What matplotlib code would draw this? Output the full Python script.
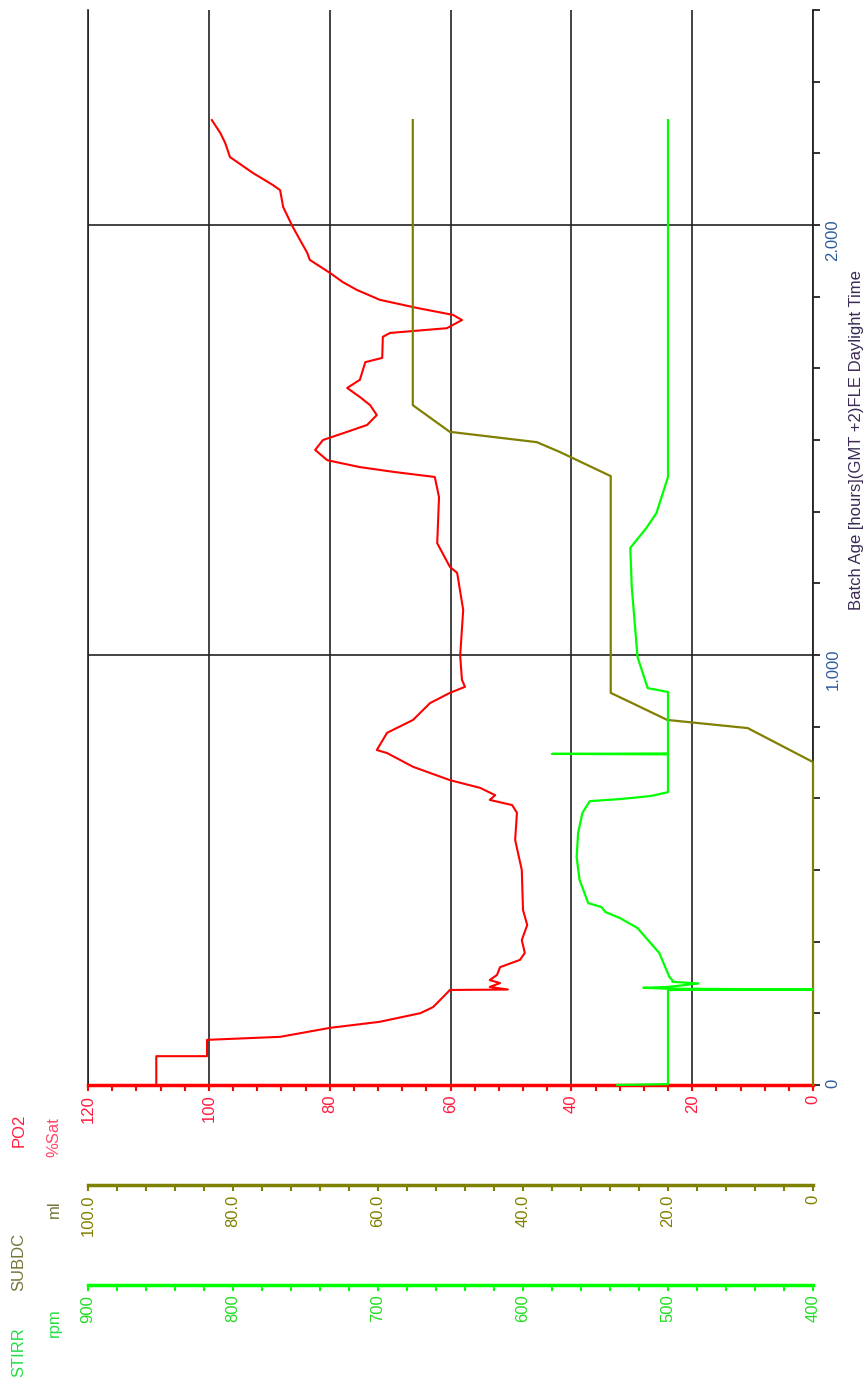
import matplotlib.pyplot as plt
from matplotlib.ticker import MultipleLocator, FuncFormatter

plt.rcParams['font.family'] = ['Liberation Sans', 'DejaVu Sans']

# batch age in hours, values
po2_t = [0.000, 0.067, 0.067, 0.105, 0.112, 0.133, 0.147, 0.167, 0.181, 0.205,
         0.221, 0.222, 0.228, 0.237, 0.244, 0.256, 0.274, 0.291, 0.307, 0.337,
         0.372, 0.407, 0.500, 0.570, 0.633, 0.651, 0.663, 0.674, 0.691, 0.709,
         0.740, 0.772, 0.779, 0.819, 0.849, 0.888, 0.912, 0.926, 0.942, 0.998,
         1.105, 1.191, 1.205, 1.260, 1.367, 1.414, 1.426, 1.437, 1.453, 1.477,
         1.500, 1.519, 1.535, 1.558, 1.581, 1.600, 1.621, 1.640, 1.663, 1.681,
         1.691, 1.740, 1.749, 1.760, 1.779, 1.791, 1.807, 1.826, 1.849, 1.867,
         1.888, 1.919, 1.935, 1.965, 1.998, 2.042, 2.081, 2.093, 2.121, 2.158,
         2.191, 2.214, 2.244]
po2_v = [108.7, 108.7, 100.3, 100.3, 88.2, 79.9, 71.7, 65.0, 62.9, 61.2,
         60.1, 50.5, 53.5, 51.8, 53.5, 52.3, 51.8, 48.5, 47.7, 48.2,
         47.3, 48.0, 48.2, 49.3, 49.0, 49.8, 53.5, 52.6, 55.1, 60.1,
         66.2, 70.5, 72.2, 70.5, 66.2, 63.4, 60.1, 57.6, 58.1, 58.4,
         57.9, 58.9, 60.1, 62.2, 61.9, 62.6, 69.5, 75.0, 80.4, 82.4,
         81.1, 77.1, 73.8, 72.2, 73.3, 75.0, 77.1, 75.0, 74.5, 74.1,
         71.3, 71.2, 70.0, 60.6, 58.1, 59.6, 65.5, 71.7, 75.5, 77.8,
         79.9, 83.3, 83.7, 84.9, 86.2, 87.7, 88.2, 89.4, 92.7, 96.5,
         97.3, 98.1, 99.5]

subdc_t = [0.000, 0.751, 0.830, 0.849, 0.912, 1.416, 1.472, 1.495, 1.519, 1.581, 2.244]
subdc_v = [0.0, 0.0, 9.0, 20.1, 27.9, 27.9, 34.9, 38.1, 50.1, 55.2, 55.2]

stirr_t = [0.000, 0.002, 0.221, 0.222, 0.224, 0.226, 0.228, 0.236, 0.240, 0.244,
           0.251, 0.307, 0.330, 0.365, 0.388, 0.402, 0.414, 0.423, 0.477, 0.530,
           0.586, 0.633, 0.660, 0.665, 0.672, 0.681, 0.769, 0.770, 0.771, 0.914,
           0.923, 0.995, 1.158, 1.249, 1.295, 1.330, 1.414, 2.244]
stirr_v = [535, 500, 500, 400, 500, 517, 500, 479, 497, 497,
           499, 506, 512, 521, 533, 543, 546, 555, 561, 563,
           562, 559, 554, 533, 512, 500, 500, 580, 500, 500,
           514, 521, 525, 526, 515, 508, 500, 500]

po2_ticks = [0, 20, 40, 60, 80, 100, 120]
subdc_ticks = [0, 20, 40, 60, 80, 100]
stirr_ticks = [400, 500, 600, 700, 800, 900]
time_ticks = [0, 1, 2]
time_labels = ['0', '1.000', '2.000']

RED = '#ff0000'
OLIVE = '#808000'
GREEN = '#00ff00'
GRID = '#222222'
FS = 12

fig = plt.figure(figsize=(8.66, 13.77), dpi=100)
W, H = 866, 1377
ax = fig.add_axes([88 / W, 1 - 1085 / H, 725 / W, 1075 / H])

ax.plot(po2_v, po2_t, color=RED, lw=1.5, zorder=3)
ax.set_xlim(120, 0)
ax.set_ylim(0, 2.5)

ax.set_xticks(po2_ticks)
ax.xaxis.set_minor_locator(MultipleLocator(4))
ax.set_yticks(time_ticks)
ax.set_yticklabels(time_labels)
ax.yaxis.set_minor_locator(MultipleLocator(1 / 6))
ax.grid(which='major', color=GRID, lw=1.2, zorder=1)

ax.spines['top'].set_visible(False)
ax.spines['left'].set_color(GRID)
ax.spines['left'].set_linewidth(1.2)
ax.spines['right'].set_color(GRID)
ax.spines['right'].set_linewidth(1.3)
ax.spines['bottom'].set_color(RED)
ax.spines['bottom'].set_linewidth(2.5)

ax.tick_params(axis='x', which='both', colors=RED, length=4, width=1.5,
               labelrotation=90, labelsize=FS, pad=3)
ax.tick_params(axis='x', which='major', labelcolor='#ff1a3c')

# SUBDC axis, drawn below the PO2 scale
ax2 = ax.twiny()
ax2.plot(subdc_v, subdc_t, color=OLIVE, lw=1.6, clip_on=False, zorder=3)
ax2.set_xlim(100, 0)
ax2.set_xticks(subdc_ticks)
ax2.xaxis.set_minor_locator(MultipleLocator(4))
ax2.xaxis.set_major_formatter(FuncFormatter(lambda v, p: '0' if v == 0 else '%.1f' % v))
ax2.xaxis.set_ticks_position('bottom')
ax2.xaxis.set_label_position('bottom')
for s in ['top', 'left', 'right']:
    ax2.spines[s].set_visible(False)
ax2.spines['bottom'].set_position(('outward', 72))
ax2.spines['bottom'].set_color(OLIVE)
ax2.spines['bottom'].set_linewidth(2.5)
ax2.tick_params(axis='x', which='both', colors=OLIVE, length=4, width=1.5,
                labelrotation=90, labelsize=FS, pad=3)

# STIRR axis
ax3 = ax.twiny()
ax3.plot(stirr_v, stirr_t, color=GREEN, lw=1.6, clip_on=False, zorder=3)
ax3.set_xlim(900, 400)
ax3.set_xticks(stirr_ticks)
ax3.xaxis.set_minor_locator(MultipleLocator(20))
ax3.xaxis.set_ticks_position('bottom')
ax3.xaxis.set_label_position('bottom')
for s in ['top', 'left', 'right']:
    ax3.spines[s].set_visible(False)
ax3.spines['bottom'].set_position(('outward', 144))
ax3.spines['bottom'].set_color(GREEN)
ax3.spines['bottom'].set_linewidth(2.5)
ax3.tick_params(axis='x', which='both', colors=GREEN, length=4, width=1.5,
                labelrotation=90, labelsize=FS, pad=3)
ax3.tick_params(axis='x', which='major', labelcolor='#22dd22')

# time axis on the right
ax.yaxis.tick_right()
ax.tick_params(axis='y', which='both', colors=GRID, length=5, width=1.3,
               labelrotation=90, labelsize=FS, pad=4)
ax.tick_params(axis='y', which='major', labelcolor='#2f5c9c')

fig.text(856 / W, 1 - 440 / H, 'Batch Age [hours](GMT +2)FLE Daylight Time',
         rotation=90, ha='center', va='center', fontsize=FS, color='#3b2b55')

fig.text(19 / W, 1 - 1130 / H, 'PO2', rotation=90, ha='center', va='center',
         fontsize=FS, color='#ff1a3c')
fig.text(54 / W, 1 - 1137 / H, '%Sat', rotation=90, ha='center', va='center',
         fontsize=FS, color='#ff4a6a')
fig.text(19 / W, 1 - 1262 / H, 'SUBDC', rotation=90, ha='center', va='center',
         fontsize=FS, color='#76763a')
fig.text(54 / W, 1 - 1209 / H, 'ml', rotation=90, ha='center', va='center',
         fontsize=FS, color='#76763a')
fig.text(19 / W, 1 - 1352 / H, 'STIRR', rotation=90, ha='center', va='center',
         fontsize=FS, color='#22dd44')
fig.text(54 / W, 1 - 1323 / H, 'rpm', rotation=90, ha='center', va='center',
         fontsize=FS, color='#22dd44')

fig.savefig('out.png', dpi=100)
